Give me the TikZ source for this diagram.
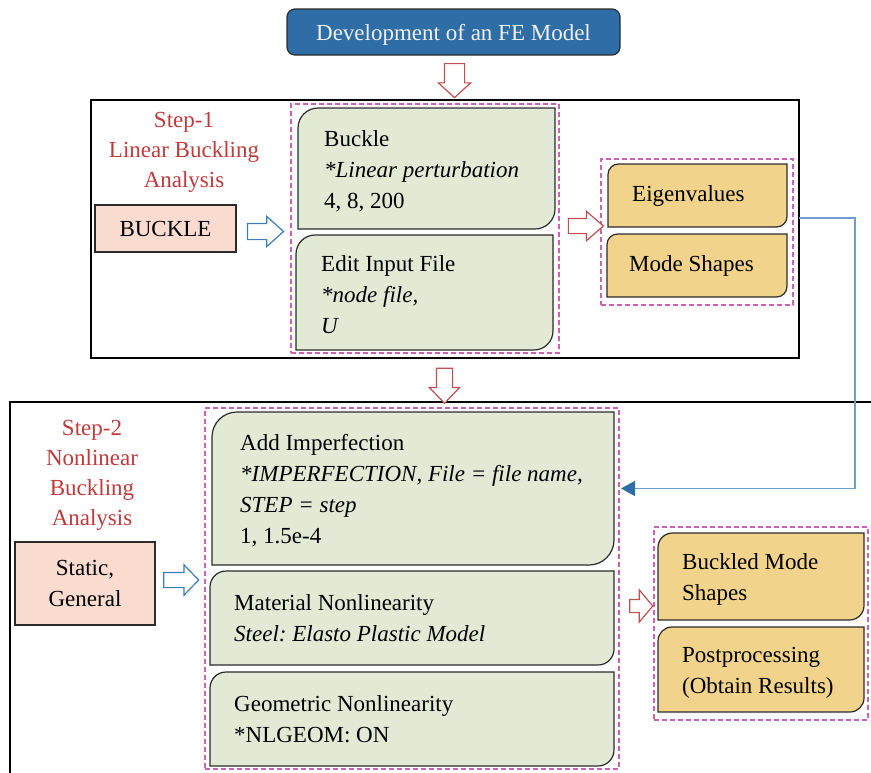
\documentclass[tikz,border=0pt]{standalone}
\usepackage{fontspec}
\setmainfont{Liberation Serif}
\usetikzlibrary{shapes.arrows,arrows.meta}
\definecolor{topblue}{HTML}{2E6DA6}
\definecolor{peach}{HTML}{F9DCCF}
\definecolor{sage}{HTML}{E2EAD6}
\definecolor{gold}{HTML}{F1D38B}
\definecolor{grpmag}{HTML}{D060B5}
\definecolor{labred}{HTML}{BF3A3A}
\definecolor{arrred}{HTML}{C0504D}
\definecolor{arrblue}{HTML}{3C7DC0}
\definecolor{connblue}{HTML}{6C9FD0}
\definecolor{tipblue}{HTML}{2E6DA6}
\definecolor{edge}{HTML}{2B2B2B}
\newcommand\snipbox[3]{%
 \draw[boxline,fill=#2] (#1.south west)
  -- ([yshift=-#3pt]#1.north west)
  .. controls ([yshift={-0.4477*#3pt}]#1.north west) and ([xshift={0.4477*#3pt}]#1.north west) .. ([xshift=#3pt]#1.north west)
  -- (#1.north east)
  -- ([yshift=#3pt]#1.south east)
  .. controls ([yshift={0.4477*#3pt}]#1.south east) and ([xshift={-0.4477*#3pt}]#1.south east) .. ([xshift=-#3pt]#1.south east)
  -- cycle;}
\begin{document}
\frenchspacing
\begin{tikzpicture}[x=1pt,y=-1pt,
  font=\fontsize{23}{31}\selectfont,
  boxline/.style={draw=edge,line width=1.2pt},
  area/.style={inner sep=0pt,outer sep=0pt},
  txt/.style={inner sep=0pt,anchor=west,align=left,text=black},
  group/.style={draw=grpmag,line width=1.2pt,dash pattern=on 5pt off 3pt,inner sep=0pt,outer sep=0pt},
  frame/.style={draw=black,line width=1.2pt},
  steplabel/.style={text=labred,align=center,font=\fontsize{23}{30}\selectfont},
  plainbox/.style={boxline,align=center,inner sep=0pt},
  blockarrow/.style={single arrow,line width=1.2pt,fill=white,single arrow head extend=#1,inner sep=0pt},
  redarrow/.style={blockarrow=#1,draw=arrred},
  bluearrow/.style={blockarrow=#1,draw=arrblue},
  conn/.style={draw=connblue,line width=1.5pt,-{Triangle[length=14pt,width=15pt,color=tipblue]}}]
\useasboundingbox (0,0) rectangle (871,772);

% title
\node[draw=edge,line width=1.2pt,fill=topblue,rounded corners=8pt,minimum width=333pt,minimum height=46pt,text=white!94!black,inner sep=0pt,text depth=0pt] (title) at (453.5,32) {Development of an FE Model};

% frames
\node[frame,area,minimum width=708pt,minimum height=258pt] (frame1) at (445,229) {};
\draw[frame] (890,402) -- (10,402) -- (10,790);

% arrows between stages
\node[redarrow=6pt,minimum height=34pt,inner sep=9.5pt,single arrow tip angle=95,shape border rotate=270] (a1) at (454.5,76) {};
\node[redarrow=7pt,minimum height=35pt,inner sep=7.5pt,single arrow tip angle=88,shape border rotate=270] (a2) at (444.5,381.5) {};

% step labels
\node[steplabel] (s1) at (184,152) {Step-1\\Linear Buckling\\Analysis};
\node[steplabel] (s2) at (92,475) {Step-2\\Nonlinear\\Buckling\\Analysis};

% left boxes
\node[plainbox,fill=peach,minimum width=141pt,minimum height=47pt] (buck) at (165.5,228.5) {BUCKLE};
\node[plainbox,fill=peach,minimum width=140pt,minimum height=83pt] (stat) at (85,583.5) {Static,\\General};

\node[bluearrow=7pt,minimum height=36pt,inner sep=7.5pt,single arrow tip angle=84] (b1) at (261,231.5) {};
\node[bluearrow=7.5pt,minimum height=35pt,inner sep=7pt,single arrow tip angle=92] (b2) at (177.5,580) {};

% groups
\node[group,minimum width=268pt,minimum height=249pt] (g1) at (425,228.5) {};
\node[group,minimum width=192pt,minimum height=146pt] (g2) at (697,232) {};
\node[group,minimum width=414pt,minimum height=361pt] (g3) at (412,588.5) {};
\node[group,minimum width=214pt,minimum height=193pt] (g4) at (761,623.5) {};

\node[redarrow=7pt,minimum height=35pt,inner sep=7pt,single arrow tip angle=82] (r1) at (581.5,226) {};
\node[redarrow=9.5pt,minimum height=23pt,inner sep=6pt,single arrow tip angle=100] (r2) at (638.5,606) {};

% step-1 boxes
\node[area,minimum width=257pt,minimum height=121pt] (bk) at (426.5,168.5) {};
\snipbox{bk}{sage}{20}
\node[txt] (bkt) at ([xshift=26pt,yshift=-2.5pt]bk.west) {Buckle\\\textit{*Linear perturbation}\\4, 8, 200};

\node[area,minimum width=257pt,minimum height=115pt] (ed) at (424.5,292.5) {};
\snipbox{ed}{sage}{19}
\node[txt] (edt) at ([xshift=25pt,yshift=-2.5pt]ed.west) {Edit Input File\\\textit{*node file,}\\\textit{U}};

\node[area,minimum width=179pt,minimum height=63pt] (eig) at (697.5,195.5) {};
\snipbox{eig}{gold}{10.5}
\node[txt] (eigt) at ([xshift=24pt]eig.west) {Eigenvalues};

\node[area,minimum width=180pt,minimum height=63pt] (mode) at (697,265.5) {};
\snipbox{mode}{gold}{10.5}
\node[txt] (modet) at ([xshift=22pt]mode.west) {Mode Shapes};

% step-2 boxes
\node[area,minimum width=402pt,minimum height=153pt] (imp) at (413,488.5) {};
\snipbox{imp}{sage}{25}
\node[txt] (impt) at ([xshift=28pt,yshift=-2.5pt]imp.west) {Add Imperfection\\\textit{*IMPERFECTION, File = file name,}\\\textit{STEP = step}\\1, 1.5e-4};

\node[area,minimum width=404pt,minimum height=94pt] (mat) at (412,618) {};
\snipbox{mat}{sage}{16}
\node[txt] (matt) at ([xshift=24pt]mat.west) {Material Nonlinearity\\\textit{Steel: Elasto Plastic Model}};

\node[area,minimum width=404pt,minimum height=94pt] (geo) at (412,719) {};
\snipbox{geo}{sage}{16}
\node[txt] (geot) at ([xshift=24pt]geo.west) {Geometric Nonlinearity\\*NLGEOM: ON};

\node[area,minimum width=206pt,minimum height=87pt] (bms) at (761,576.5) {};
\snipbox{bms}{gold}{14.5}
\node[txt] (bmst) at ([xshift=24pt,yshift=-3pt]bms.west) {Buckled Mode\\Shapes};

\node[area,minimum width=206pt,minimum height=85pt] (post) at (761,669.5) {};
\snipbox{post}{gold}{14}
\node[txt] (postt) at ([xshift=24pt,yshift=-3pt]post.west) {Postprocessing\\(Obtain Results)};

% connector
\coordinate (cstart) at (frame1.east |- 0,218);
\draw[conn] (cstart) -- (855,218) |- ([xshift=2pt]g3.east |- imp.east);
\end{tikzpicture}
\end{document}
